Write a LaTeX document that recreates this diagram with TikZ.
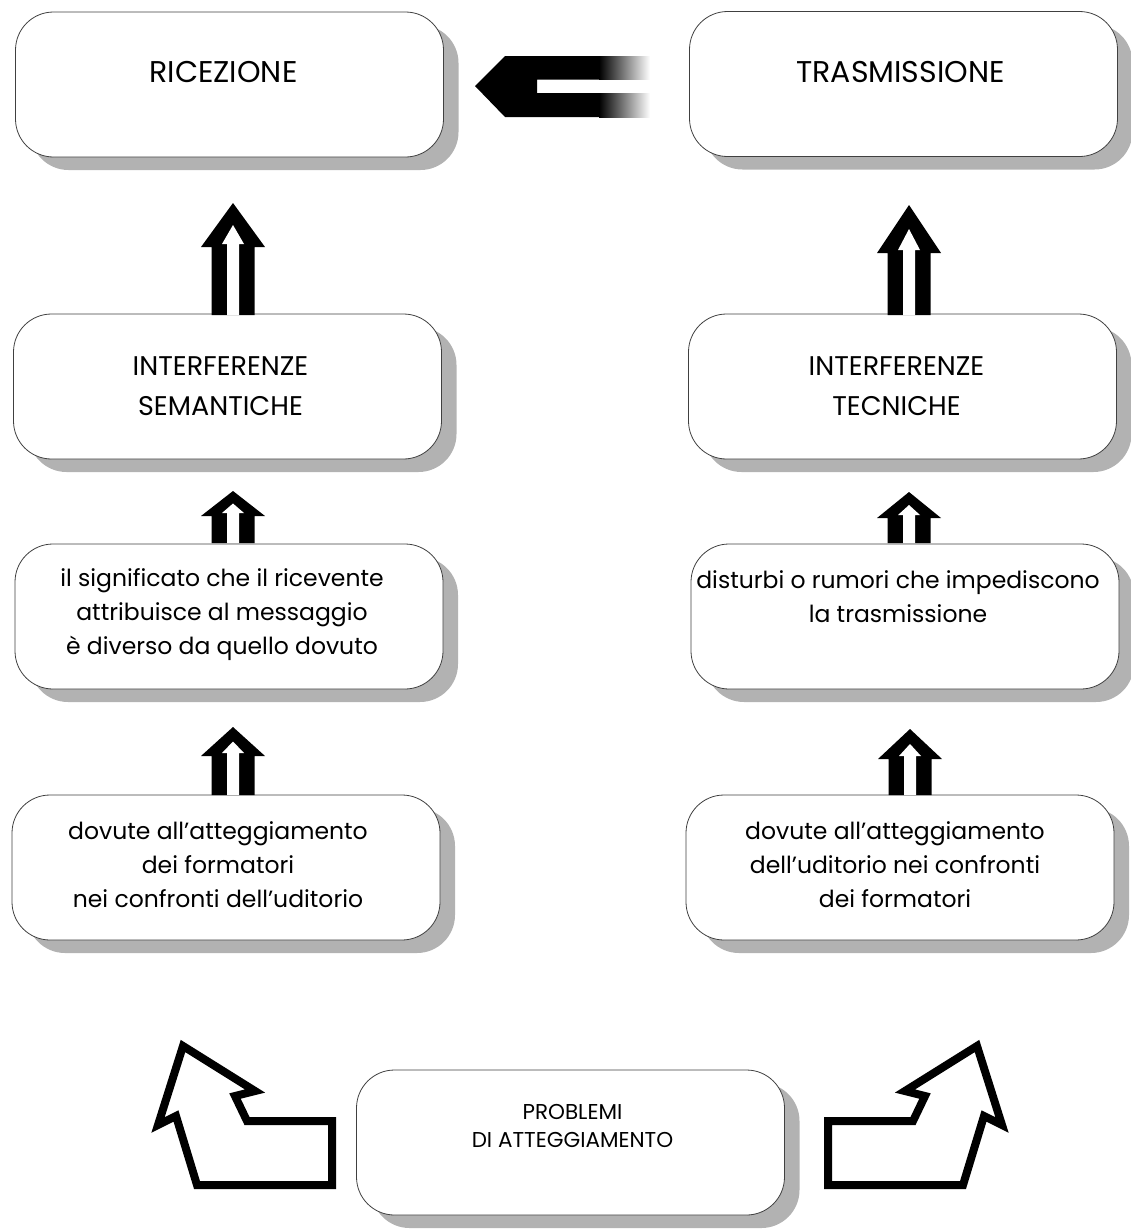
\documentclass[tikz,border=0pt]{standalone}
\usepackage{fontspec}
\setmainfont{Poppins}
\usetikzlibrary{shadows}

% double-stroke block arrow: centre x, apex y, head base y, bottom y
\newcommand{\uparr}[4]{%
  \fill ({#1},{#2}) -- ({#1+32},{#3}) -- ({#1+21.5},{#3}) -- ({#1+21.5},{#4})
    -- ({#1-21.5},{#4}) -- ({#1-21.5},{#3}) -- ({#1-32},{#3}) -- cycle;
  \fill[white] ({#1},{#2+0.5*(#3-#2)}) -- ({#1+11},{#3-3}) -- ({#1+6},{#3-3}) -- ({#1+6},{#4})
    -- ({#1-6},{#4}) -- ({#1-6},{#3-3}) -- ({#1-11},{#3-3}) -- cycle;
}

\tikzset{
  box/.style={draw=black!75, line width=0.8pt, fill=white, rounded corners=38pt,
    minimum width=428pt, minimum height=145pt,
    drop shadow={shadow xshift=15pt, shadow yshift=-13pt, fill=black!30, opacity=1}},
  bigtxt/.style={font=\fontsize{30}{34}\selectfont},
  midtxt/.style={align=center, font=\fontsize{27}{40}\selectfont},
  smalltxt/.style={align=center, font=\fontsize{23.5}{34}\selectfont},
  protxt/.style={align=center, font=\fontsize{21.5}{28}\selectfont},
  bentarr/.style={draw=black, line width=8pt, fill=white, line join=miter},
}

\begin{document}
\begin{tikzpicture}[x=1pt, y=-1pt]
  \useasboundingbox (0,0) rectangle (1131,1229);

  % boxes
  \node[box] (ric) at (229.5,84.5) {};
  \node[box] (tra) at (903.5,84) {};
  \node[box] (sem) at (227.5,386.5) {};
  \node[box] (tec) at (902.5,386.5) {};
  \node[box] (sig) at (229,616.5) {};
  \node[box] (dis) at (905,616.5) {};
  \node[box] (fsx) at (226,867.5) {};
  \node[box] (fdx) at (900,867.5) {};
  \node[box] (pro) at (570.5,1142.5) {};

  % texts
  \node[bigtxt] (ricT) at ([xshift=-6pt, yshift=12.5pt]ric.center) {RICEZIONE};
  \node[bigtxt] (traT) at ([xshift=-3pt, yshift=12pt]tra.center) {TRASMISSIONE};
  \node[midtxt] (semT) at ([xshift=-7pt]sem.center) {INTERFERENZE\\SEMANTICHE};
  \node[midtxt] (tecT) at ([xshift=-6pt]tec.center) {INTERFERENZE\\TECNICHE};
  \node[smalltxt] (sigT) at ([xshift=-7pt, yshift=2pt]sig.center)
    {il significato che il ricevente\\attribuisce al messaggio\\è diverso da quello dovuto};
  \node[smalltxt] (disT) at ([xshift=-7pt, yshift=19.5pt]dis.center)
    {disturbi o rumori che impediscono\\la trasmissione};
  \node[smalltxt] (fsxT) at ([xshift=-8pt, yshift=3pt]fsx.center)
    {dovute all’atteggiamento\\dei formatori\\nei confronti dell’uditorio};
  \node[smalltxt] (fdxT) at ([xshift=-5pt, yshift=3pt]fdx.center)
    {dovute all’atteggiamento\\dell’uditorio nei confronti\\dei formatori};
  \node[protxt] (proT) at ([xshift=2pt, yshift=16.5pt]pro.center)
    {PROBLEMI\\DI ATTEGGIAMENTO};

  % vertical arrows
  \uparr{233}{203}{247}{315}
  \uparr{233}{491}{516}{543}
  \uparr{233}{727}{756}{795}
  \uparr{909}{205}{253}{315}
  \uparr{909}{492}{518}{543}
  \uparr{910}{729}{759}{795}

  % horizontal arrow with fading tails
  \fill (475,86) -- (505,56) -- (600,56) -- (600,79.5) -- (537,79.5) -- (537,93)
    -- (600,93) -- (600,117) -- (505,117) -- cycle;
  \shade[left color=black, right color=white] (599,56) rectangle (650,79.5);
  \shade[left color=black, right color=white] (599,93) rectangle (650,117);

  % bent arrows
  \draw[bentarr] (183,1046) -- (255,1091) -- (235,1096) -- (247,1121) -- (332,1121)
    -- (332,1185) -- (197,1185) -- (176,1116) -- (158,1125) -- cycle;
  \draw[bentarr] (977,1046) -- (905,1091) -- (925,1096) -- (913,1121) -- (828,1121)
    -- (828,1185) -- (963,1185) -- (984,1116) -- (1002,1125) -- cycle;
\end{tikzpicture}
\end{document}
